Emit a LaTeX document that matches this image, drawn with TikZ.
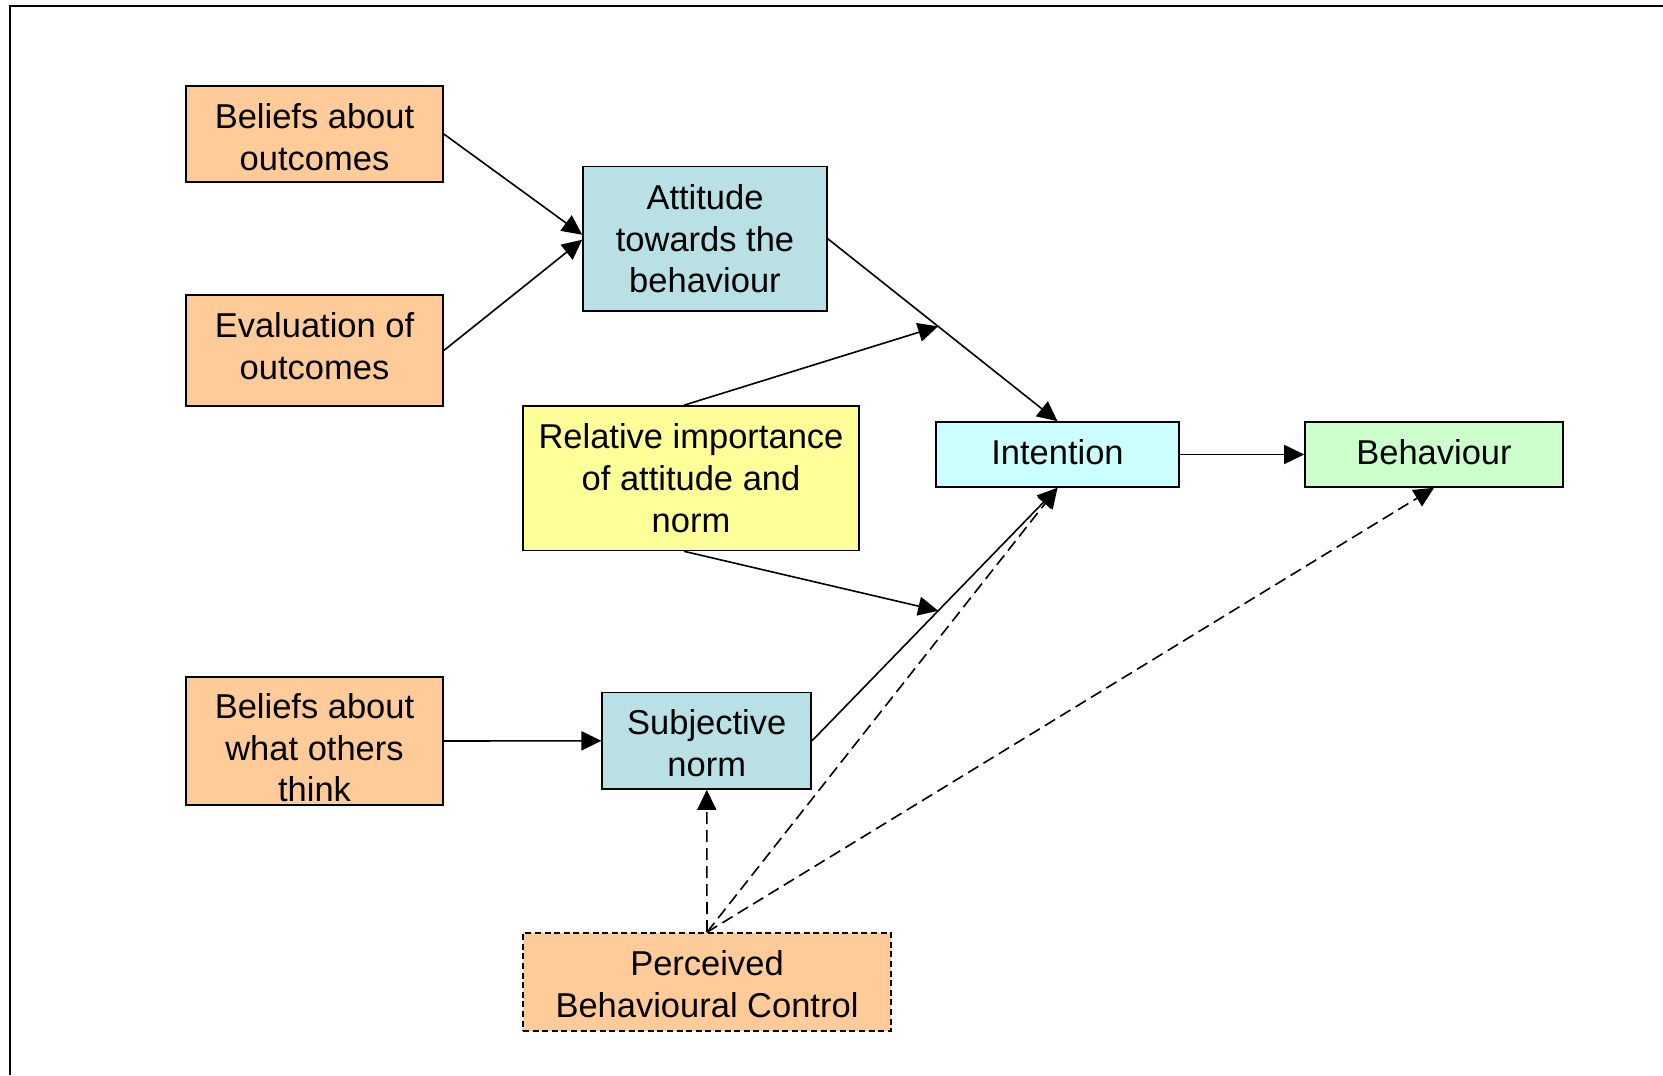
\documentclass[tikz,border=0pt]{standalone}
\usepackage{fontspec}
\setmainfont{Liberation Sans}
\usetikzlibrary{arrows.meta,calc}
\definecolor{orangefill}{RGB}{255,204,153}
\definecolor{tealfill}{RGB}{185,224,228}
\definecolor{yellowfill}{RGB}{255,255,153}
\definecolor{cyanfill}{RGB}{204,255,255}
\definecolor{greenfill}{RGB}{204,255,204}
\tikzset{
  box/.style={draw=black, line width=0.8pt, inner sep=0pt, align=center,
    font=\fontsize{17.25}{20.8}\selectfont},
  conn/.style={line width=0.8pt, -{Triangle[length=10pt,width=9.5pt]}},
  dconn/.style={conn, dash pattern=on 6pt off 3pt},
}
\begin{document}
\begin{tikzpicture}[x=0.5pt,y=-0.5pt]
\useasboundingbox (0,0) rectangle (1663,1075);
\fill[white] (0,0) rectangle (1663,1075);
\draw[line width=1pt] (10,1075) -- (10,6) -- (1663,6);

\node[box, fill=orangefill, minimum width=128.5pt, minimum height=48pt] (bo) at (314.5,134) {};
\node[box, draw=none, fill=none] (botext) at (314.5,137) {Beliefs about\\outcomes};
\node[box, fill=orangefill, minimum width=128.5pt, minimum height=55.5pt] (eo) at (314.5,350.5) {};
\node[box, draw=none, fill=none] (eotext) at (314.5,346) {Evaluation of\\outcomes};
\node[box, fill=tealfill, minimum width=122pt, minimum height=72.25pt] (att) at (705,238.75) {Attitude\\towards the\\behaviour};
\node[box, fill=yellowfill, minimum width=168pt, minimum height=72.25pt] (rel) at (691,478.25) {Relative importance\\of attitude and\\norm};
\node[box, fill=cyanfill, minimum width=121.5pt, minimum height=32.5pt] (int) at (1057.5,454.5) {};
\node[box, draw=none, fill=none] (inttext) at (1057.5,452) {Intention};
\node[box, fill=greenfill, minimum width=129pt, minimum height=32.5pt] (beh) at (1434,454.5) {};
\node[box, draw=none, fill=none] (behtext) at (1434,452) {Behaviour};
\node[box, fill=orangefill, minimum width=128.5pt, minimum height=64pt] (bwo) at (314.5,741) {};
\node[box, draw=none, fill=none] (bwotext) at (314.5,748) {Beliefs about\\what others\\think};
\node[box, fill=tealfill, minimum width=104.5pt, minimum height=48.2pt] (sn) at (706.75,740.8) {};
\node[box, draw=none, fill=none] (sntext) at (706.75,743) {Subjective\\norm};
\node[box, fill=orangefill, dash pattern=on 3pt off 1.8pt, minimum width=184pt, minimum height=49pt] (pbc) at (707,982) {};
\node[box, draw=none, fill=none] (pbctext) at (707,984) {Perceived\\Behavioural Control};

\coordinate (m1) at ($(att.east)!0.48!(int.north)$);
\coordinate (m2) at ($(sn.east)!0.514!(int.south)$);

\draw[conn] (bo.east) -- ($(att.west)+(0,-4)$);
\draw[conn] (eo.east) -- ($(att.west)+(0,1)$);
\draw[conn] (att.east) -- (int.north);
\draw[conn] ($(rel.north)+(-7,0)$) -- (m1);
\draw[conn] ($(rel.south)+(-7,0)$) -- (m2);
\draw[conn] (sn.east) -- (int.south);
\draw[conn] (int.east) -- (beh.west);
\draw[conn] (bwo.east) -- (sn.west);
\draw[dconn] (pbc.north) -- (sn.south);
\draw[dconn] (pbc.north) -- (int.south);
\draw[dconn] (pbc.north) -- (beh.south);
\end{tikzpicture}
\end{document}
